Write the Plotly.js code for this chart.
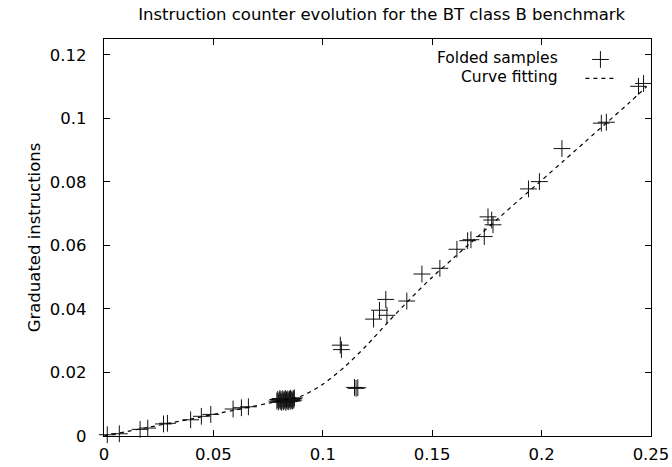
<!DOCTYPE html>
<html>
<head>
<meta charset="utf-8">
<script src="https://cdn.plot.ly/plotly-3.0.1.min.js"></script>
<style>html,body{margin:0;padding:0;background:#fff;}#chart{width:672px;height:467px;}</style>
</head>
<body>
<div id="chart"></div>
<script>
// Folded samples (normalized time, graduated instructions)
const sampleX = [
  0.0015, 0.0070, 0.0165, 0.0200, 0.0272, 0.0290, 0.0396, 0.0445, 0.0488, 0.0590, 0.0628, 0.0660,
  0.0790, 0.0794, 0.0797, 0.0801, 0.0804, 0.0806, 0.0809, 0.0812, 0.0815, 0.0818, 0.0821, 0.0823,
  0.0826, 0.0829, 0.0831, 0.0834, 0.0837, 0.0840, 0.0842, 0.0845, 0.0848, 0.0851, 0.0853, 0.0856,
  0.0859, 0.0862, 0.0865, 0.0868, 0.0870,
  0.1080, 0.1085, 0.1145, 0.1152, 0.1160,
  0.1232, 0.1259, 0.1288, 0.1293, 0.1384, 0.1453, 0.1535,
  0.1613, 0.1662, 0.1677, 0.1738, 0.1755, 0.1772, 0.1778,
  0.1940, 0.1990, 0.2093, 0.2273, 0.2296, 0.2443, 0.2466
];
const sampleY = [
  0.0004, 0.0007, 0.0021, 0.0025, 0.0038, 0.0040, 0.0051, 0.0062, 0.0068, 0.0085, 0.0089, 0.0092,
  0.0110, 0.0115, 0.0107, 0.0113, 0.0118, 0.0109, 0.0114, 0.0106, 0.0117, 0.0111, 0.0108, 0.0116,
  0.0112, 0.0118, 0.0106, 0.0114, 0.0110, 0.0117, 0.0108, 0.0113, 0.0116, 0.0109, 0.0119, 0.0112,
  0.0115, 0.0110, 0.0118, 0.0113, 0.0120,
  0.0286, 0.0272, 0.0153, 0.0150, 0.0152,
  0.0368, 0.0396, 0.0430, 0.0380, 0.0425, 0.0510, 0.0528,
  0.0588, 0.0615, 0.0618, 0.0628, 0.0690, 0.0680, 0.0665,
  0.0778, 0.0801, 0.0905, 0.0985, 0.0988, 0.1101, 0.1110
];
// Curve fitting
const curveX = [0, 0.02, 0.04, 0.06, 0.08, 0.09, 0.10, 0.11, 0.12, 0.13, 0.14, 0.15, 0.16, 0.17, 0.18, 0.19, 0.20, 0.21, 0.22, 0.23, 0.24, 0.248];
const curveY = [0, 0.0027, 0.0054, 0.0082, 0.0110, 0.0125, 0.0163, 0.0218, 0.0285, 0.0360, 0.0432, 0.0500, 0.0562, 0.0623, 0.0684, 0.0745, 0.0805, 0.0866, 0.0927, 0.0988, 0.1049, 0.1100];

const xTicks = [0, 0.05, 0.1, 0.15, 0.2, 0.25];
const xTickText = ['0', '0.05', '0.1', '0.15', '0.2', '0.25'];
const yTicks = [0, 0.02, 0.04, 0.06, 0.08, 0.1, 0.12];
const yTickText = ['0', '0.02', '0.04', '0.06', '0.08', '0.1', '0.12'];

const FONT = 'DejaVu Sans, Liberation Sans, Arial, sans-serif';
const FS = 16.5;
const LFS = 15.5;

const traces = [
  {
    x: sampleX, y: sampleY, type: 'scatter', mode: 'markers', name: ' ',
    marker: {symbol: 'cross-thin', size: 12, color: '#000', line: {color: '#111', width: 1}},
    cliponaxis: false
  },
  {
    x: curveX, y: curveY, type: 'scatter', mode: 'lines', name: ' ',
    line: {color: '#000', width: 1.2, dash: '4px,4px', shape: 'spline', smoothing: 0.8}
  }
];

const axisCommon = {
  showline: true, mirror: 'allticks', linecolor: '#000', linewidth: 1.3,
  ticks: 'inside', ticklen: 6, tickcolor: '#000', tickwidth: 1,
  showgrid: false, zeroline: false,
  tickfont: {family: FONT, size: FS, color: '#000'}
};

const layout = {
  width: 672, height: 467,
  margin: {l: 104, r: 21, t: 39, b: 31},
  paper_bgcolor: '#fff', plot_bgcolor: '#fff',
  font: {family: FONT, color: '#000'},
  title: {text: 'Instruction counter evolution for the BT class B benchmark',
          font: {family: FONT, size: FS, color: '#000'}, x: 0.568, xanchor: 'center', y: 0.97, yanchor: 'middle'},
  xaxis: Object.assign({}, axisCommon, {range: [0, 0.25], tickvals: xTicks, ticktext: xTickText, ticklabelstandoff: 3}),
  yaxis: Object.assign({}, axisCommon, {range: [0, 0.125], tickvals: yTicks, ticktext: yTickText, ticklabelstandoff: 13,
          title: {text: 'Graduated instructions', font: {family: FONT, size: FS, color: '#000'}, standoff: 5}}),
  showlegend: true,
  legend: {x: 0.871, xanchor: 'left', y: 0.985, yanchor: 'top', bgcolor: 'rgba(0,0,0,0)',
           font: {family: FONT, size: 10}, itemwidth: 30, tracegroupgap: 0},
  annotations: [
    {text: 'Folded samples', xref: 'paper', yref: 'paper', x: 0.834, y: 0.953, xanchor: 'right', yanchor: 'middle',
     showarrow: false, font: {family: FONT, size: LFS, color: '#000'}},
    {text: 'Curve fitting', xref: 'paper', yref: 'paper', x: 0.834, y: 0.904, xanchor: 'right', yanchor: 'middle',
     showarrow: false, font: {family: FONT, size: LFS, color: '#000'}}
  ]
};

Plotly.newPlot('chart', traces, layout, {displayModeBar: false, staticPlot: true});
</script>
</body>
</html>
